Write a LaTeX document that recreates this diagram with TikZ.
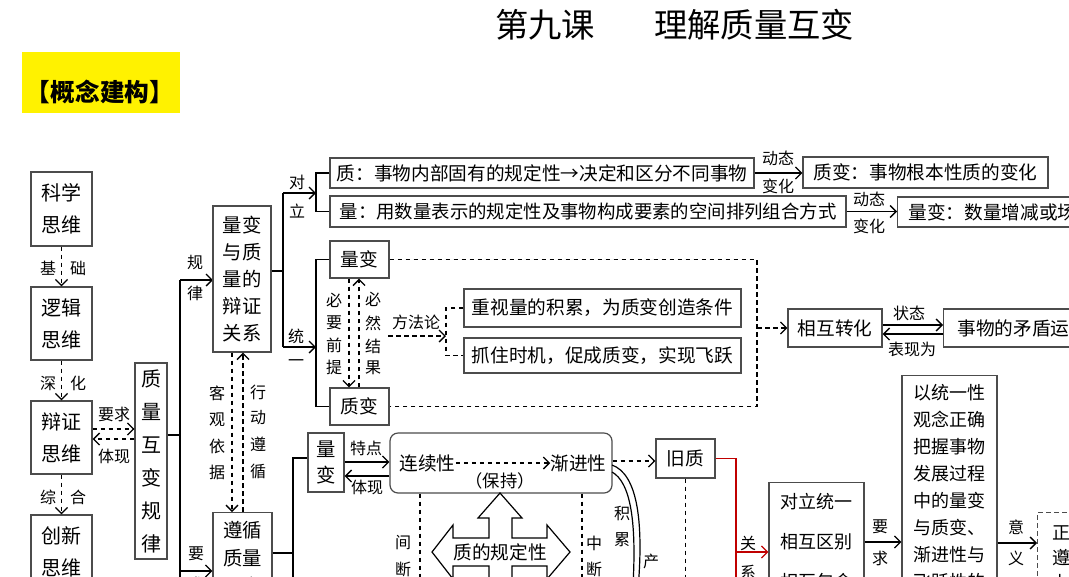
\documentclass[tikz,border=0pt]{standalone}
\usepackage{fontspec}
\setmainfont{Noto Sans CJK SC}
\usetikzlibrary{arrows.meta}
\newcommand\myfs[2]{\fontsize{#1}{#2}\selectfont}
\definecolor{redc}{HTML}{C00000}
\begin{document}
\begin{tikzpicture}[x=0.75pt,y=-0.75pt,
  box/.style={draw=black!70, line width=0.9pt, inner sep=0pt, align=center, fill=white, font=\myfs{14}{16}},
  lbl/.style={font=\myfs{12}{14}, inner sep=0pt},
  conn/.style={line width=1pt, black},
  arr/.style={conn, -{Straight Barb[length=4.5pt,width=9pt]}},
  dsh/.style={dash pattern=on 3.5pt off 2.5pt},
  darr/.style={arr, dsh},
  dln/.style={conn, dsh},
]
\useasboundingbox (0,0) rectangle (1069,576);
\clip (0,0) rectangle (1069,576);

% title
\node[font=\myfs{25}{30}, inner sep=0pt] (t1) at (545,25) {第九课};
\node[font=\myfs{25}{30}, inner sep=0pt] (t2) at (754,25) {理解质量互变};
\node[fill=yellow, minimum width=118.5pt, minimum height=45.75pt, inner sep=0pt] (yb) at (101,82.5) {};
\node[font=\myfs{18.5}{20}\bfseries, inner sep=0pt] (gt) at (100,92) {【概念建构】};

% left column
\node[box, minimum width=45.75pt, minimum height=55.5pt, font=\myfs{15}{24}] (kx) at (61.5,209) {科学\\思维};
\node[box, minimum width=45.75pt, minimum height=54.75pt, font=\myfs{15}{24}] (lj) at (61.5,323.5) {逻辑\\思维};
\node[box, minimum width=45.75pt, minimum height=54.75pt, font=\myfs{15}{24}] (bz) at (61.5,437.5) {辩证\\思维};
\node[box, minimum width=45.75pt, minimum height=55.5pt, font=\myfs{15}{24}] (cx) at (61.5,552) {创新\\思维};

\draw[darr] (kx.south) -- (lj.north);
\draw[darr] (lj.south) -- (bz.north);
\draw[darr] (bz.south) -- (cx.north);
\node[lbl] (l1) at (48,268) {基};
\node[lbl] (l2) at (78,268) {础};
\node[lbl] (l3) at (48,383) {深};
\node[lbl] (l4) at (78,383) {化};
\node[lbl] (l5) at (48,497) {综};
\node[lbl] (l6) at (78,497) {合};

\node[box, minimum width=24pt, minimum height=147pt, font=\myfs{15}{24.75}] (zl) at (151,461) {质\\量\\互\\变\\规\\律};
\draw[darr] (bz.east |- 0,429) -- (zl.west |- 0,429);
\draw[darr] (zl.west |- 0,439) -- (bz.east |- 0,439);
\node[lbl] (l7) at (114,414) {要求};
\node[lbl] (l8) at (114,456) {体现};

% spine 1
\coordinate (s1a) at (180,280);
\coordinate (s1b) at (180,600);
\coordinate (s1c) at (180,571);
\draw[conn] (zl.east |- 0,435) -- (180,435);
\draw[conn] (s1a) -- (s1b);
\draw[arr] (s1a) -- (213,280);
\node[lbl] (l9) at (195,262) {规};
\node[lbl] (l10) at (195,293) {律};
\node[lbl] (l11) at (196,554) {要};
\node[lbl] (l12) at (196,584) {求};

\node[box, minimum width=43.5pt, minimum height=109.5pt, font=\myfs{14.5}{20.25}] (lb) at (242,279) {量变\\与质\\量的\\辩证\\关系};
\node[box, anchor=north, minimum width=44.25pt, inner ysep=6.5pt, font=\myfs{14.5}{21}] (zx) at (242.5,512) {遵循\\质量\\互变\\规律};
\draw[arr] (s1c) -- (zx.west |- s1c);

\draw[darr] (lb.south -| 232,0) -- (zx.north -| 232,0);
\draw[darr] (zx.north -| 243,0) -- (lb.south -| 243,0);
\node[lbl] (k1) at (217,393) {客};
\node[lbl] (k2) at (217,420) {观};
\node[lbl] (k3) at (217,446) {依};
\node[lbl] (k4) at (217,472) {据};
\node[lbl] (x1) at (258,392) {行};
\node[lbl] (x2) at (258,418) {动};
\node[lbl] (x3) at (258,444) {遵};
\node[lbl] (x4) at (258,471) {循};

% spine 2 : 对立 / 统一
\coordinate (s2a) at (283,193);
\coordinate (s2b) at (283,347);
\coordinate (b1) at (316,193);
\coordinate (b2) at (316,347);
\draw[conn] (lb.east |- 0,271) -- (283,271);
\draw[conn] (s2a) -- (s2b);
\draw[arr] (s2a) -- (b1);
\draw[arr] (s2b) -- (b2);
\node[lbl] (d1) at (297,182) {对};
\node[lbl] (d2) at (297,211) {立};
\node[lbl] (u1) at (296,336) {统};
\node[lbl] (u2) at (296,363) {一};

\node[box, minimum width=318pt, minimum height=22.5pt] (q1) at (542,173) {质：事物内部固有的规定性→决定和区分不同事物};
\node[box, minimum width=387pt, minimum height=23.25pt, font=\myfs{13.8}{16}] (q2) at (588,211.5) {量：用数量表示的规定性及事物构成要素的空间排列组合方式};
\draw[conn] (q1.west) -| (b1) |- (q2.west);
\node[box, minimum width=183.75pt, minimum height=23.25pt] (zb) at (925.5,172.5) {质变：事物根本性质的变化};
\node[box, anchor=west, minimum height=22.5pt, inner xsep=8.25pt, text width=220pt, align=left] (lbz) at (897,212) {量变：数量增减或场所的变更};
\draw[arr] (q1.east) -- (zb.west |- q1.east);
\draw[arr] (q2.east) -- (lbz.west |- q2.east);
\node[lbl] (dt1) at (778,158) {动态};
\node[lbl] (dt2) at (778,186) {变化};
\node[lbl] (dt3) at (869,199) {动态};
\node[lbl] (dt4) at (869,226) {变化};

% 量变 / 质变
\node[box, minimum width=44.25pt, minimum height=27.75pt] (lbv) at (359.5,259.5) {量变};
\node[box, minimum width=44.25pt, minimum height=27.75pt] (zbv) at (359.5,406.5) {质变};
\draw[conn] (lbv.west) -| (b2) |- (zbv.west);
\draw[darr] (lbv.south -| 349,0) -- (zbv.north -| 349,0);
\draw[darr] (zbv.north -| 359,0) -- (lbv.south -| 359,0);
\node[lbl] (bq1) at (334,300) {必};
\node[lbl] (bq2) at (334,323) {要};
\node[lbl] (bq3) at (334,345) {前};
\node[lbl] (bq4) at (334,367) {提};
\node[lbl] (br1) at (373,299) {必};
\node[lbl] (br2) at (373,323) {然};
\node[lbl] (br3) at (373,346) {结};
\node[lbl] (br4) at (373,368) {果};

\coordinate (dr1) at (757,259.5);
\coordinate (dr2) at (757,406.5);
\coordinate (dr3) at (757,328);
\draw[dln] (lbv.east) -- (dr1) -- (dr2) -- (zbv.east);

\node[box, minimum width=207.75pt, minimum height=28.5pt] (m1) at (602.5,308) {重视量的积累，为质变创造条件};
\node[box, minimum width=207.75pt, minimum height=26.25pt] (m2) at (602.5,355.5) {抓住时机，促成质变，实现飞跃};
\coordinate (ff1) at (388,336);
\coordinate (ff2) at (446,336);
\draw[darr] (ff1) -- (ff2);
\draw[dln] (m1.west) -| (ff2) |- (m2.west);
\node[lbl] (ffl) at (416,322) {方法论};

\node[box, minimum width=70.5pt, minimum height=28.5pt] (xh) at (835,328) {相互转化};
\node[box, anchor=west, minimum height=28.5pt, inner xsep=10.5pt, text width=150pt, align=left] (md) at (943,328) {事物的矛盾运动};
\draw[darr] (dr3) -- (xh.west);
\draw[arr] (xh.east |- 0,325) -- (md.west |- 0,325);
\draw[arr] (md.west |- 0,334) -- (xh.east |- 0,334);
\node[lbl] (zt) at (909,313) {状态};
\node[lbl] (bxw) at (912,349) {表现为};

% lower middle
\coordinate (s3a) at (293,458);
\coordinate (s3b) at (293,600);
\node[box, minimum width=27pt, minimum height=44.25pt, font=\myfs{14.5}{19.5}] (lbs) at (326,462.5) {量\\变};
\draw[conn] (zx.east |- 0,553) -- (293,553);
\draw[conn] (s3b) -- (s3a) -- (lbs.west |- s3a);

\node[box, rounded corners=6pt, minimum width=166.5pt, minimum height=45pt] (rnd) at (501,463) {};
\node[font=\myfs{14}{16}, inner sep=0pt] (lxx) at (427.5,463) {连续性};
\node[font=\myfs{14}{16}, inner sep=0pt] (jjx) at (578.5,463) {渐进性};
\node[font=\myfs{13}{16}, inner sep=0pt] (bc) at (500,481) {（保持）};
\draw[darr] (lxx.east) -- (jjx.west);
\draw[arr] (lbs.east |- 0,462) -- (rnd.west |- 0,462);
\draw[arr] (rnd.west |- 0,476) -- (lbs.east |- 0,476);
\node[lbl] (td) at (366,448) {特点};
\node[lbl] (tx) at (367,487) {体现};

\node[box, minimum width=44.25pt, minimum height=29.25pt] (jz) at (685.5,458.5) {旧质};
\draw[darr] (rnd.east |- 0,461) -- (jz.west |- 0,461);

\draw[dln, line width=0.8pt] (rnd.south -| 420,0) -- (420,600);
\draw[dln, line width=0.8pt] (rnd.south -| 582,0) -- (582,600);
\draw[dln, line width=0.8pt] (jz.south) -- (685.5,600);
\node[lbl] (jd1) at (403,543) {间};
\node[lbl] (jd2) at (403,569) {断};
\node[lbl] (zd1) at (594,543) {中};
\node[lbl] (zd2) at (594,569) {断};

% quad arrow
\draw[line width=0.9pt, fill=white] (500,493) -- (522,518) -- (512,518) -- (512,538) -- (547,538) -- (547,525) -- (570,552) -- (547,579) -- (547,566) -- (512,566) -- (512,586) -- (522,586) -- (500,611) -- (478,586) -- (489,586) -- (489,566) -- (453,566) -- (453,579) -- (432,552) -- (453,525) -- (453,538) -- (489,538) -- (489,518) -- (478,518) -- cycle;
\node[font=\myfs{14}{16}, inner sep=0pt] (gd) at (500,552) {质的规定性};

% curves
\draw[line width=0.9pt] (612,465) .. controls (637,474) and (645,520) .. (637,600);
\draw[line width=0.9pt] (612,472) .. controls (630,482) and (638,520) .. (632,600);
\node[lbl] (jl1) at (622,513) {积};
\node[lbl] (jl2) at (622,540) {累};
\node[lbl] (cs1) at (651,561) {产};

% red relation
\coordinate (r1) at (736,458.5);
\coordinate (r2) at (736,600);
\coordinate (r3) at (736,552);
\draw[conn, redc] (jz.east) -- (r1) -- (r2);
\node[box, anchor=north, minimum width=71.25pt, inner ysep=8pt, font=\myfs{13.5}{30}] (dt) at (816.5,482) {对立统一\\相互区别\\相互包含};
\draw[arr, redc] (r3) -- (dt.west |- r3);
\node[lbl] (gx1) at (748,543) {关};
\node[lbl] (gx2) at (748,572) {系};

\node[box, anchor=north, minimum width=71.25pt, inner ysep=6.7pt, align=left, font=\myfs{13.5}{20.25}] (ty) at (949.5,375) {以统一性\\观念正确\\把握事物\\发展过程\\中的量变\\与质变、\\渐进性与\\飞跃性的\\关系};
\draw[arr] (dt.east |- 0,542) -- (ty.west |- 0,542);
\node[lbl] (yq1) at (880,527) {要};
\node[lbl] (yq2) at (880,558) {求};

\node[box, dsh, anchor=north west, inner xsep=11pt, inner ysep=9pt, align=left, font=\myfs{13.5}{18.75}] (yy) at (1037,512) {正确把握\\遵循规律\\办事};
\draw[arr] (ty.east |- 0,543) -- (yy.west |- 0,543);
\node[lbl] (yi1) at (1016,527) {意};
\node[lbl] (yi2) at (1016,558) {义};
\end{tikzpicture}
\end{document}
